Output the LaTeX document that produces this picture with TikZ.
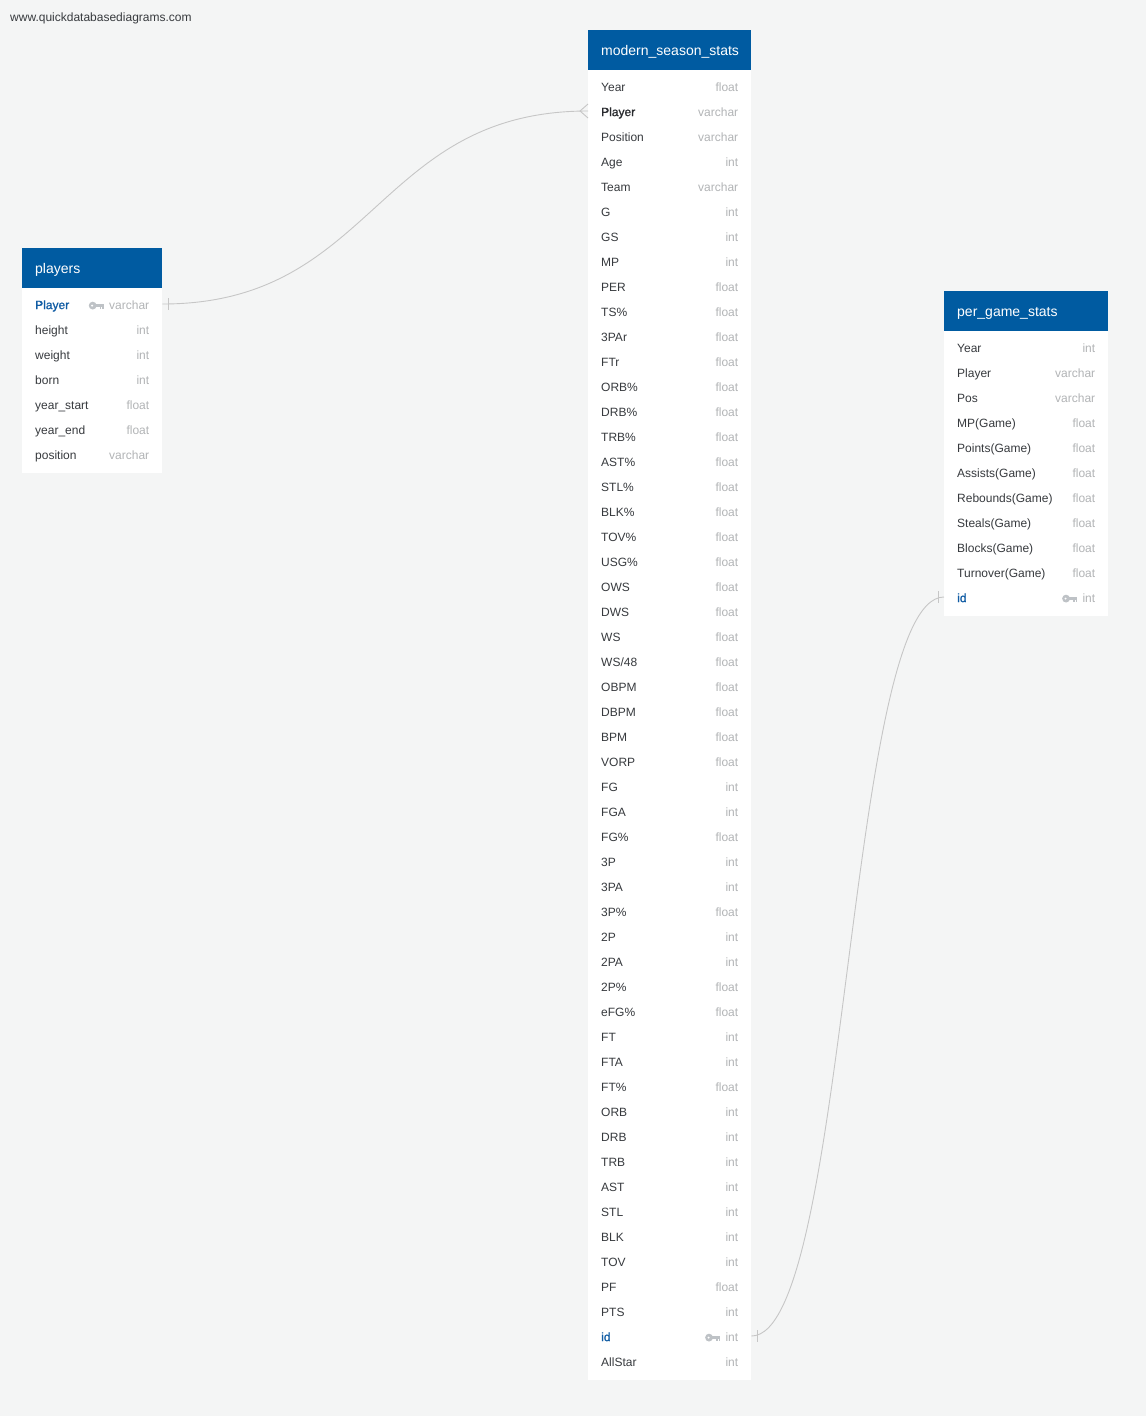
\documentclass[tikz,border=0pt]{standalone}
\usepackage{fontspec}
\setmainfont{Liberation Sans}
\newfontfamily\medfont[FakeBold=1.0]{Liberation Sans}

\definecolor{canvas}{RGB}{244,245,245}
\definecolor{hdr}{RGB}{0,91,161}
\definecolor{labc}{RGB}{55,58,62}
\definecolor{fkc}{RGB}{40,42,46}
\definecolor{typc}{RGB}{178,180,182}
\definecolor{pkc}{RGB}{16,92,164}
\definecolor{linkc}{RGB}{198,198,198}
\definecolor{keyc}{RGB}{190,194,198}

\tikzset{
  x=1pt, y=-1pt,
  tablehead/.style={fill=hdr, draw=none, minimum height=40pt, inner sep=0pt},
  headtext/.style={anchor=west, inner sep=0pt, text=white,
    font=\fontsize{14}{16}\selectfont, text height=10pt, text depth=0pt},
  rowbox/.style={draw=none, minimum height=25pt, inner sep=0pt},
  rowlab/.style={anchor=west, inner sep=0pt, text=labc, yshift=-0.8pt,
    font=\fontsize{12}{14}\selectfont, text height=8.6pt, text depth=0pt},
  rowtyp/.style={anchor=east, inner sep=0pt, text=typc, yshift=-0.8pt,
    font=\fontsize{12}{14}\selectfont, text height=8.6pt, text depth=0pt},
  lab-n/.style={},
  lab-fk/.style={text=fkc, font=\medfont\fontsize{12}{14}\selectfont},
  lab-pk/.style={text=pkc, font=\medfont\fontsize{12}{14}\selectfont},
  conn/.style={draw=linkc, line width=0.9pt},
  keyicon/.pic={
    \fill[keyc] (-11.3,0) circle (3.9);
    \fill[white] (-11.8,0) circle (1.1);
    \fill[keyc] (-8.5,-1.8) rectangle (0,1.6);
    \fill[keyc] (-4.3,1.6) rectangle (-2.5,3.6);
    \fill[keyc] (-1.8,1.6) rectangle (0,3.2);
  },
}

% #1 name, #2 left x, #3 right x, #4 top y, #5 title, #6 rows, #7 row count
\newcommand\dbtable[7]{%
  \fill[white] (#2,#4) rectangle (#3,{#4+50+25*#7});
  \node[tablehead, minimum width=#3-#2, anchor=north west] (#1-head) at (#2,#4) {};
  \node[headtext] (#1-title) at ([xshift=13pt]#1-head.west) {#5};
  \foreach \lab/\typ/\kind [count=\i] in {#6} {
    \node[rowbox, minimum width=#3-#2, anchor=west] (#1-\i) at (#2,{#4+31+25*\i}) {};
    \node[rowlab, lab-\kind] (#1-l\i) at ([xshift=13pt]#1-\i.west) {\lab};
    \node[rowtyp] (#1-t\i) at ([xshift=-13pt]#1-\i.east) {\typ};
  }
}

\begin{document}
\begin{tikzpicture}
\useasboundingbox (0,0) rectangle (1146,1416);
\fill[canvas] (0,0) rectangle (1146,1416);

\node[rowlab, text=labc] (site) at (10,16) {www.quickdatabasediagrams.com};

% players
\dbtable{pl}{22}{162}{248}{players}{
  Player/varchar/pk, height/int/n, weight/int/n, born/int/n,
  year\_start/float/n, year\_end/float/n, position/varchar/n}{7}
\pic at ([xshift=-5pt,yshift=-0.8pt]pl-t1.west) {keyicon};

% modern_season_stats
\dbtable{ms}{588}{751}{30}{modern\_season\_stats}{
  Year/float/n, Player/varchar/fk, Position/varchar/n, Age/int/n, Team/varchar/n,
  G/int/n, GS/int/n, MP/int/n, PER/float/n, TS\%/float/n, 3PAr/float/n, FTr/float/n,
  ORB\%/float/n, DRB\%/float/n, TRB\%/float/n, AST\%/float/n, STL\%/float/n,
  BLK\%/float/n, TOV\%/float/n, USG\%/float/n, OWS/float/n, DWS/float/n, WS/float/n,
  {WS/48}/float/n, OBPM/float/n, DBPM/float/n, BPM/float/n, VORP/float/n,
  FG/int/n, FGA/int/n, FG\%/float/n, 3P/int/n, 3PA/int/n, 3P\%/float/n,
  2P/int/n, 2PA/int/n, 2P\%/float/n, eFG\%/float/n, FT/int/n, FTA/int/n,
  FT\%/float/n, ORB/int/n, DRB/int/n, TRB/int/n, AST/int/n, STL/int/n,
  BLK/int/n, TOV/int/n, PF/float/n, PTS/int/n, id/int/pk, AllStar/int/n}{52}
\pic at ([xshift=-5pt,yshift=-0.8pt]ms-t51.west) {keyicon};

% per_game_stats
\dbtable{pg}{944}{1108}{291}{per\_game\_stats}{
  Year/int/n, Player/varchar/n, Pos/varchar/n, MP(Game)/float/n,
  Points(Game)/float/n, Assists(Game)/float/n, Rebounds(Game)/float/n,
  Steals(Game)/float/n, Blocks(Game)/float/n, Turnover(Game)/float/n, id/int/pk}{11}
\pic at ([xshift=-5pt,yshift=-0.8pt]pg-t11.west) {keyicon};

% players.Player -> modern_season_stats.Player (one to many)
\draw[conn] (pl-1.east) .. controls +(213,0) and +(-213,0) .. (ms-2.west);
\draw[conn] ([xshift=6pt,yshift=6pt]pl-1.east) -- ([xshift=6pt,yshift=-6pt]pl-1.east);
\draw[conn] ([yshift=7pt]ms-2.west) -- ([xshift=-8pt]ms-2.west) -- ([yshift=-7pt]ms-2.west);

% modern_season_stats.id -> per_game_stats.id (one to one)
\draw[conn] (ms-51.east) .. controls +(97,0) and +(-97,0) .. (pg-11.west);
\draw[conn] ([xshift=6pt,yshift=6pt]ms-51.east) -- ([xshift=6pt,yshift=-6pt]ms-51.east);
\draw[conn] ([xshift=-6pt,yshift=6pt]pg-11.west) -- ([xshift=-6pt,yshift=-6pt]pg-11.west);
\end{tikzpicture}
\end{document}
